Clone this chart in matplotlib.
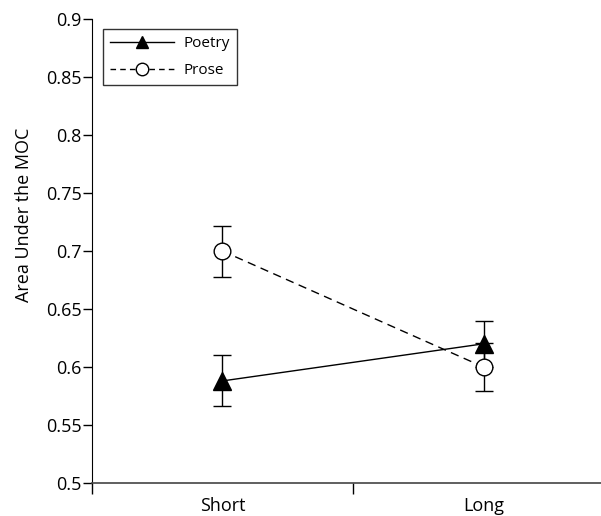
import matplotlib.pyplot as plt
from matplotlib.lines import Line2D
import numpy as np

conditions = ['Short', 'Long']
poetry_mean = [0.588, 0.620]
poetry_err = [0.022, 0.020]
prose_mean = [0.700, 0.600]
prose_err = [0.022, 0.021]
yticks = [0.5, 0.55, 0.6, 0.65, 0.7, 0.75, 0.8, 0.85, 0.9]

plt.rcParams['font.family'] = ['Open Sans', 'DejaVu Sans']

fig = plt.figure(figsize=(6.01, 5.16), dpi=100)
ax = fig.add_axes([0.153, 0.064, 0.847, 0.899])

dash = (0, (6, 4))
x = np.arange(len(conditions)) + 0.5
ax.errorbar(x, poetry_mean, yerr=poetry_err, color='black', linestyle='-', linewidth=1,
            marker='^', markersize=13.5, markerfacecolor='black', capsize=6.5, elinewidth=1,
            capthick=1, zorder=3)
ax.errorbar(x, prose_mean, yerr=prose_err, color='black', linestyle=dash, linewidth=1,
            marker='o', markersize=12, markerfacecolor='white', capsize=6.5, elinewidth=1,
            capthick=1, zorder=3)

ax.set_xlim(0, 1.95)
ax.set_ylim(0.5, 0.9)
ax.set_yticks(yticks)
ax.set_yticklabels([('%g' % v) for v in yticks], fontsize=13)
ax.set_xticks([0, 1])
ax.set_xticklabels([])
ax.set_xticks(x, minor=True)
ax.set_xticklabels(conditions, minor=True, fontsize=13)
ax.tick_params(axis='x', which='major', direction='out', length=8, width=1)
ax.tick_params(axis='x', which='minor', length=0, pad=10)
ax.tick_params(axis='y', direction='out', length=6.5, width=1, pad=1)
ax.spines['top'].set_visible(False)
ax.spines['right'].set_visible(False)
ax.spines['bottom'].set_color('#444444')
ax.spines['bottom'].set_linewidth(1.2)
ax.set_ylabel('Area Under the MOC', fontsize=13, labelpad=4)
ax.yaxis.set_label_coords(-0.115, 0.578)

handles = [
    Line2D([], [], color='black', linestyle='-', linewidth=1, marker='^', markersize=9,
           markerfacecolor='black'),
    Line2D([], [], color='black', linestyle=(0, (4, 3)), linewidth=1, marker='o', markersize=9,
           markerfacecolor='white'),
]
leg = ax.legend(handles, ['Poetry', 'Prose'], loc='upper left', bbox_to_anchor=(0.022, 0.978),
                fontsize=11, frameon=True, fancybox=False, edgecolor='black',
                handlelength=4.2, borderpad=0.45, labelspacing=0.8, handletextpad=0.6,
                borderaxespad=0)
leg.get_frame().set_linewidth(1)

fig.savefig('out.png', dpi=100)
